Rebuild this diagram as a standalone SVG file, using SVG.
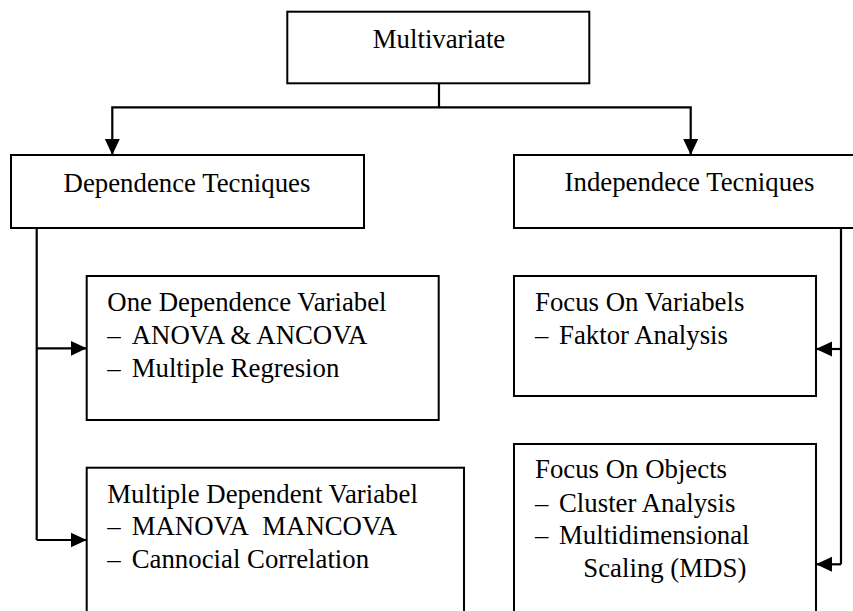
<svg xmlns="http://www.w3.org/2000/svg" width="853" height="611" viewBox="0 0 853 611">
<style>
.box{fill:#fff;stroke:#000;stroke-width:2}
.t{font-family:"Liberation Serif","Times New Roman",serif;font-size:26.8px;fill:#000}
.ln{fill:none;stroke:#000;stroke-width:2.2}
</style>
<defs>
<marker id="ah" viewBox="0 0 16 16" refX="16" refY="8" markerWidth="16" markerHeight="16" markerUnits="userSpaceOnUse" orient="auto">
<path d="M0,0.5 L16,8 L0,15.5 Z" fill="#000"/>
</marker>
</defs>
<rect width="853" height="611" fill="#fff"/>
<g id="connectors">
<path class="ln" d="M439,83 V107.3"/>
<path class="ln" d="M439,107.3 H112.3 V155" marker-end="url(#ah)"/>
<path class="ln" d="M439,107.3 H690.7 V155" marker-end="url(#ah)"/>
<path class="ln" d="M36.7,228 V540"/>
<path class="ln" d="M36.7,348.3 H86.7" marker-end="url(#ah)"/>
<path class="ln" d="M36.7,540 H86.7" marker-end="url(#ah)"/>
<path class="ln" d="M841,228 V564.3"/>
<path class="ln" d="M841,349 H816" marker-end="url(#ah)"/>
<path class="ln" d="M841,564.3 H816" marker-end="url(#ah)"/>
</g>
<g id="multivariate">
<rect class="box" x="287.3" y="11.7" width="302" height="71.6"/>
<text class="t" x="439" y="48.3" text-anchor="middle">Multivariate</text>
</g>
<g id="dependence">
<rect class="box" x="11" y="155" width="353" height="73"/>
<text class="t" x="187" y="191.5" text-anchor="middle">Dependence Tecniques</text>
</g>
<g id="independence">
<rect class="box" x="514" y="155" width="352" height="73"/>
<text class="t" x="689.5" y="190.7" text-anchor="middle">Independece Tecniques</text>
</g>
<g id="one-dependence">
<rect class="box" x="86.7" y="276" width="352" height="144"/>
<text class="t" x="107.3" y="310.7">One Dependence Variabel</text>
<text class="t" y="344"><tspan x="107.3">–</tspan><tspan x="131.7">ANOVA &amp; ANCOVA</tspan></text>
<text class="t" y="376.5"><tspan x="107.3">–</tspan><tspan x="131.7">Multiple Regresion</tspan></text>
</g>
<g id="multiple-dependent">
<rect class="box" x="86.7" y="467.7" width="377.3" height="160"/>
<text class="t" x="107.3" y="502.7">Multiple Dependent Variabel</text>
<text class="t" y="535.3"><tspan x="107.3">–</tspan><tspan x="131.7">MANOVA&#160; MANCOVA</tspan></text>
<text class="t" y="568"><tspan x="107.3">–</tspan><tspan x="131.7">Cannocial Correlation</tspan></text>
</g>
<g id="focus-variables">
<rect class="box" x="514" y="276" width="302" height="120"/>
<text class="t" x="535" y="310.7">Focus On Variabels</text>
<text class="t" y="344"><tspan x="535">–</tspan><tspan x="559">Faktor Analysis</tspan></text>
</g>
<g id="focus-objects">
<rect class="box" x="514" y="444" width="302" height="180"/>
<text class="t" x="535" y="478.3">Focus On Objects</text>
<text class="t" y="511.7"><tspan x="535">–</tspan><tspan x="559">Cluster Analysis</tspan></text>
<text class="t" y="544.3"><tspan x="535">–</tspan><tspan x="559">Multidimensional</tspan></text>
<text class="t" x="583.3" y="576.5">Scaling (MDS)</text>
</g>
</svg>
